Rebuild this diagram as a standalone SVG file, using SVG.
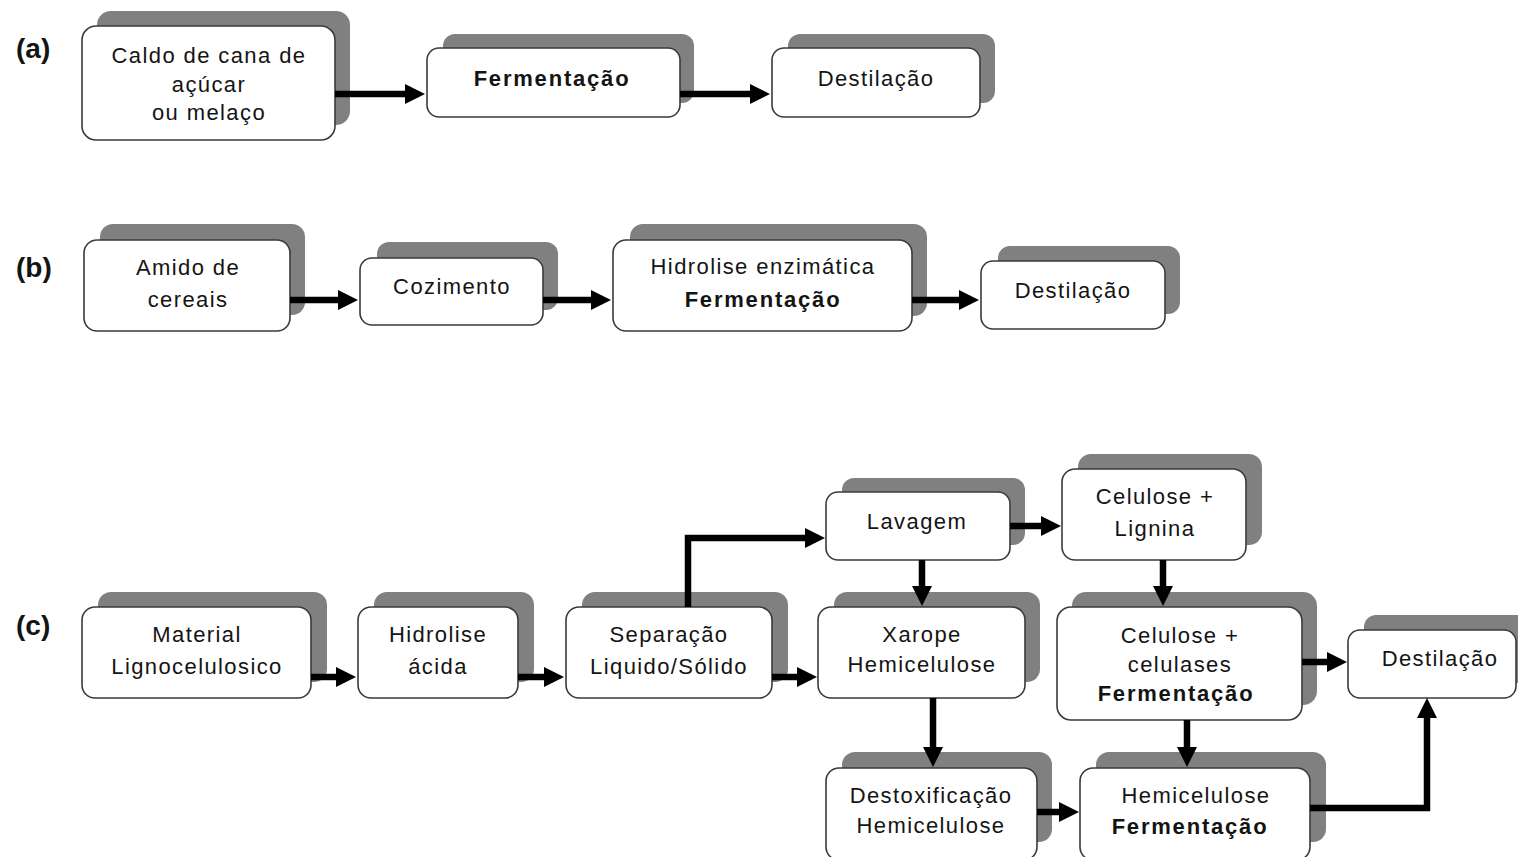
<svg xmlns="http://www.w3.org/2000/svg" width="1518" height="857" viewBox="0 0 1518 857">
<defs>
<style>
.sh{fill:#808080;}
.bx{fill:#ffffff;stroke:#3a3a3a;stroke-width:1.6;}
.t{font-family:"Liberation Sans",Arial,sans-serif;font-size:22px;fill:#141414;text-anchor:middle;letter-spacing:1.4px;}
.b{font-weight:bold;letter-spacing:1.8px;}
.lab{font-family:"Liberation Sans",Arial,sans-serif;font-size:28px;font-weight:bold;fill:#141414;}
.c{fill:none;stroke:#000;stroke-width:6.5;}
</style>
<marker id="ah" viewBox="0 0 20 20" refX="0" refY="10" markerWidth="20" markerHeight="20" markerUnits="userSpaceOnUse" orient="auto">
<path d="M0,0 L20,10 L0,20 z" fill="#000"/>
</marker>
</defs>
<rect width="1518" height="857" fill="#fff"/>

<text class="lab" x="16" y="58">(a)</text>
<text class="lab" x="16" y="277">(b)</text>
<text class="lab" x="16" y="635">(c)</text>

<!-- Row a -->
<g id="a1"><rect class="sh" x="97" y="11" width="253" height="114" rx="14"/><rect class="bx" x="82" y="26" width="253" height="114" rx="14"/>
<text class="t" x="209" y="63">Caldo de cana de</text><text class="t" x="209" y="92">açúcar</text><text class="t" x="209" y="120">ou melaço</text></g>
<g id="a2"><rect class="sh" x="443" y="34" width="251" height="69" rx="12"/><rect class="bx" x="427" y="48" width="253" height="69" rx="12"/>
<text class="t b" x="552" y="86">Fermentação</text></g>
<g id="a3"><rect class="sh" x="788" y="34" width="207" height="69" rx="12"/><rect class="bx" x="772" y="48" width="208" height="69" rx="12"/>
<text class="t" x="876" y="86">Destilação</text></g>

<!-- Row b -->
<g id="b1"><rect class="sh" x="100" y="224" width="205" height="91" rx="13"/><rect class="bx" x="84" y="240" width="206" height="91" rx="13"/>
<text class="t" x="188" y="275">Amido de</text><text class="t" x="188" y="307">cereais</text></g>
<g id="b2"><rect class="sh" x="377" y="242" width="181" height="68" rx="12"/><rect class="bx" x="360" y="258" width="183" height="67" rx="12"/>
<text class="t" x="452" y="294">Cozimento</text></g>
<g id="b3"><rect class="sh" x="630" y="224" width="297" height="92" rx="13"/><rect class="bx" x="613" y="240" width="299" height="91" rx="13"/>
<text class="t" x="763" y="274">Hidrolise enzimática</text><text class="t b" x="763" y="307">Fermentação</text></g>
<g id="b4"><rect class="sh" x="998" y="246" width="182" height="68" rx="12"/><rect class="bx" x="981" y="261" width="184" height="68" rx="12"/>
<text class="t" x="1073" y="298">Destilação</text></g>

<!-- Row c -->
<g id="c1"><rect class="sh" x="98" y="592" width="229" height="90" rx="13"/><rect class="bx" x="82" y="607" width="229" height="91" rx="13"/>
<text class="t" x="197" y="642">Material</text><text class="t" x="197" y="674">Lignocelulosico</text></g>
<g id="c2"><rect class="sh" x="374" y="592" width="160" height="90" rx="13"/><rect class="bx" x="358" y="607" width="160" height="91" rx="13"/>
<text class="t" x="438" y="642">Hidrolise</text><text class="t" x="438" y="674">ácida</text></g>
<g id="c3"><rect class="sh" x="582" y="592" width="206" height="90" rx="13"/><rect class="bx" x="566" y="607" width="206" height="91" rx="13"/>
<text class="t" x="669" y="642">Separação</text><text class="t" x="669" y="674">Liquido/Sólido</text></g>
<g id="c4"><rect class="sh" x="842" y="478" width="183" height="67" rx="12"/><rect class="bx" x="826" y="492" width="184" height="68" rx="12"/>
<text class="t" x="917" y="529">Lavagem</text></g>
<g id="c5"><rect class="sh" x="834" y="592" width="206" height="90" rx="13"/><rect class="bx" x="818" y="607" width="207" height="91" rx="13"/>
<text class="t" x="922" y="642">Xarope</text><text class="t" x="922" y="672">Hemicelulose</text></g>
<g id="c6"><rect class="sh" x="1078" y="454" width="184" height="91" rx="13"/><rect class="bx" x="1062" y="469" width="184" height="91" rx="13"/>
<text class="t" x="1155" y="504">Celulose +</text><text class="t" x="1155" y="536">Lignina</text></g>
<g id="c7"><rect class="sh" x="1072" y="592" width="245" height="113" rx="14"/><rect class="bx" x="1057" y="607" width="245" height="113" rx="14"/>
<text class="t" x="1180" y="643">Celulose +</text><text class="t" x="1180" y="672">celulases</text><text class="t b" x="1176" y="701">Fermentação</text></g>
<g id="c8"><rect class="sh" x="1364" y="615" width="170" height="68" rx="12"/><rect class="bx" x="1348" y="630" width="168" height="68" rx="12"/>
<text class="t" x="1440" y="666">Destilação</text></g>
<g id="c9"><rect class="sh" x="842" y="752" width="210" height="90" rx="13"/><rect class="bx" x="826" y="768" width="211" height="92" rx="13"/>
<text class="t" x="931" y="803">Destoxificação</text><text class="t" x="931" y="833">Hemicelulose</text></g>
<g id="c10"><rect class="sh" x="1096" y="752" width="230" height="90" rx="13"/><rect class="bx" x="1080" y="768" width="230" height="92" rx="13"/>
<text class="t" x="1196" y="803">Hemicelulose</text><text class="t b" x="1190" y="834">Fermentação</text></g>

<g id="connectors">
<path class="c" d="M335,94 H405" marker-end="url(#ah)"/>
<path class="c" d="M680,94 H750" marker-end="url(#ah)"/>
<path class="c" d="M290,300 H338" marker-end="url(#ah)"/>
<path class="c" d="M543,300 H591" marker-end="url(#ah)"/>
<path class="c" d="M912,300 H959" marker-end="url(#ah)"/>
<path class="c" d="M311,677 H336" marker-end="url(#ah)"/>
<path class="c" d="M518,677 H544" marker-end="url(#ah)"/>
<path class="c" d="M772,677 H797" marker-end="url(#ah)"/>
<path class="c" d="M688,607 V538 H805" marker-end="url(#ah)"/>
<path class="c" d="M1010,526 H1041" marker-end="url(#ah)"/>
<path class="c" d="M922,560 V586" marker-end="url(#ah)"/>
<path class="c" d="M1163,560 V586" marker-end="url(#ah)"/>
<path class="c" d="M1302,662 H1327" marker-end="url(#ah)"/>
<path class="c" d="M933,698 V747" marker-end="url(#ah)"/>
<path class="c" d="M1037,812 H1059" marker-end="url(#ah)"/>
<path class="c" d="M1187,720 V747" marker-end="url(#ah)"/>
<path class="c" d="M1310,808 H1427 V718" marker-end="url(#ah)"/>
</g>
</svg>
